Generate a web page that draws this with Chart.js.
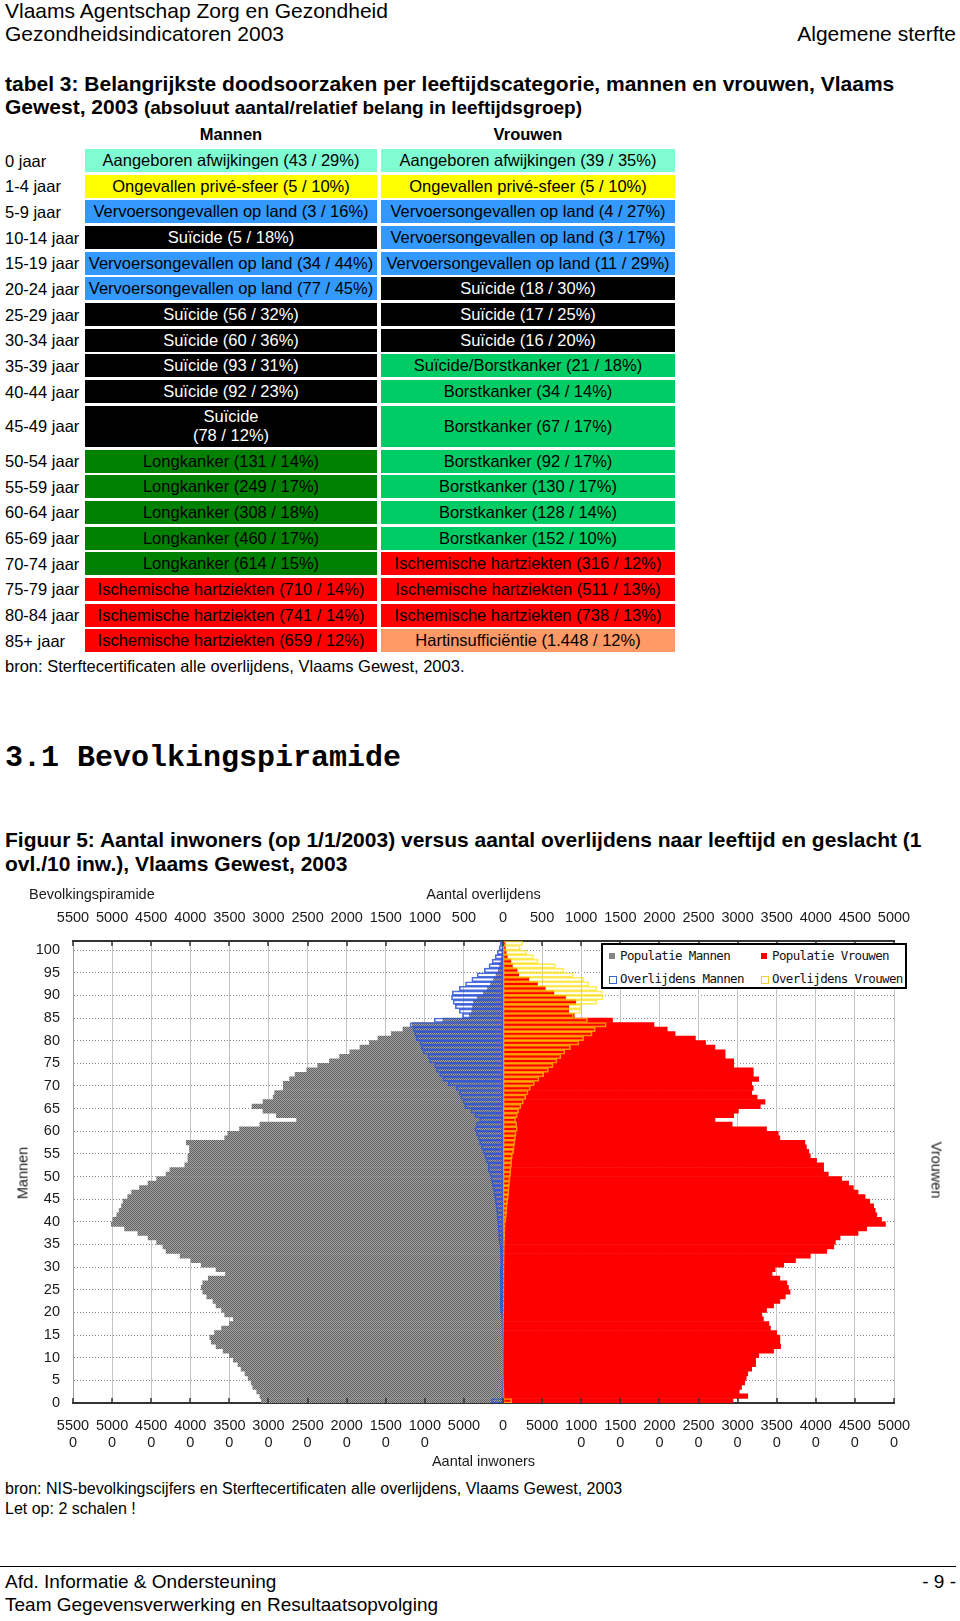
<!DOCTYPE html>
<html lang="nl">
<head>
<meta charset="utf-8">
<title>Algemene sterfte - Bevolkingspiramide</title>
<script src="https://cdn.jsdelivr.net/npm/chart.js@4.4.1/dist/chart.umd.min.js"></script>
<style>
    html, body { margin: 0; padding: 0; background: #fff; }
    body { width: 960px; height: 1621px; position: relative; overflow: hidden;
           font-family: "Liberation Sans", Arial, sans-serif; color: #000; }
    .t { position: absolute; white-space: nowrap; }
    .hdr { font-size: 21px; line-height: 24px; }
    .ttl { font-size: 21px; line-height: 24px; font-weight: bold; }
    .ttl small { font-size: 19px; }
    .colhead { font-size: 16.5px; line-height: 20px; font-weight: bold; text-align: center; }
    .lbl { font-size: 16.5px; line-height: 20px; }
    .cell { position: absolute; display: flex; align-items: center; justify-content: center;
            font-size: 16.5px; line-height: 19px; text-align: center; white-space: pre-line; }
    .sect { font-family: "Liberation Mono", "DejaVu Sans Mono", monospace; font-weight: bold;
            font-size: 30px; line-height: 34px; }
    .note { font-size: 16px; line-height: 20px; }
    .foot { font-size: 19px; line-height: 22px; }
    #chart-wrap { position: absolute; left: 0; top: 880px; width: 960px; height: 595px; }
    .ctext { position: absolute; font-size: 14.5px; line-height: 17px; color: #1a1a1a; white-space: nowrap; }
    #legend { position: absolute; left: 601px; top: 943px; width: 302px; height: 42px;
              border: 2px solid #000; background: #fff; z-index: 2;
              font-family: "DejaVu Sans Mono", "Liberation Mono", monospace; font-size: 12.5px;
              letter-spacing: -0.65px; color: #111; }
    #legend .item { position: absolute; line-height: 15px; white-space: nowrap; }
    #legend .sw { position: absolute; width: 6px; height: 6px; }
    #footer-rule { position: absolute; left: 0; top: 1566px; width: 956px; height: 1px; background: #000; }
</style>
</head>
<body>

<div class="t hdr" style="left:5px; top:-1px;">Vlaams Agentschap Zorg en Gezondheid</div>
<div class="t hdr" style="left:5px; top:22px;">Gezondheidsindicatoren 2003</div>
<div class="t hdr" style="right:4px; top:22px;">Algemene sterfte</div>

<div class="t ttl" style="left:5px; top:72px;">tabel 3: Belangrijkste doodsoorzaken per leeftijdscategorie, mannen en vrouwen, Vlaams</div>
<div class="t ttl" style="left:5px; top:95px;">Gewest, 2003 <small>(absoluut aantal/relatief belang in leeftijdsgroep)</small></div>

<div class="t colhead" style="left:85px; width:292px; top:124px;">Mannen</div>
<div class="t colhead" style="left:381px; width:294px; top:124px;">Vrouwen</div>

<div id="cause-table"></div>

<div class="t note" style="left:5px; top:656px; font-size:16.5px;">bron: Sterftecertificaten alle overlijdens, Vlaams Gewest, 2003.</div>

<div class="t sect" style="left:5px; top:741px;">3.1 Bevolkingspiramide</div>

<div class="t ttl" style="left:5px; top:828px;">Figuur 5: Aantal inwoners (op 1/1/2003) versus aantal overlijdens naar leeftijd en geslacht (1</div>
<div class="t ttl" style="left:5px; top:852px;">ovl./10 inw.), Vlaams Gewest, 2003</div>

<div id="chart-wrap"><canvas id="pyramid-chart"></canvas></div>
<div class="ctext" style="left:29px; top:886px;">Bevolkingspiramide</div>
<div class="ctext" style="left:23px; top:1173px; transform: translate(-50%, -50%) rotate(-90deg);">Mannen</div>
<div class="ctext" style="left:936px; top:1170px; transform: translate(-50%, -50%) rotate(90deg);">Vrouwen</div>
<div id="legend"></div>

<div class="t note" style="left:5px; top:1479px;">bron: NIS-bevolkingscijfers en Sterftecertificaten alle overlijdens, Vlaams Gewest, 2003</div>
<div class="t note" style="left:5px; top:1499px;">Let op: 2 schalen !</div>

<div id="footer-rule"></div>
<div class="t foot" style="left:5px; top:1571px;">Afd. Informatie &amp; Ondersteuning</div>
<div class="t foot" style="left:5px; top:1594px;">Team Gegevensverwerking en Resultaatsopvolging</div>
<div class="t foot" style="right:4px; top:1571px;">- 9 -</div>

<script>
// age categories (one bar per year, top bar = 101)
const ages = [
    0, 1, 2, 3, 4, 5, 6, 7, 8, 9,
    10, 11, 12, 13, 14, 15, 16, 17, 18, 19,
    20, 21, 22, 23, 24, 25, 26, 27, 28, 29,
    30, 31, 32, 33, 34, 35, 36, 37, 38, 39,
    40, 41, 42, 43, 44, 45, 46, 47, 48, 49,
    50, 51, 52, 53, 54, 55, 56, 57, 58, 59,
    60, 61, 62, 63, 64, 65, 66, 67, 68, 69,
    70, 71, 72, 73, 74, 75, 76, 77, 78, 79,
    80, 81, 82, 83, 84, 85, 86, 87, 88, 89,
    90, 91, 92, 93, 94, 95, 96, 97, 98, 99,
    100, 101
];

// population on 1/1/2003 (inhabitants)
const populationMen = [
    30900, 31100, 31500, 32000, 32200, 32600, 33000, 33500, 33900, 34500,
    35000, 35800, 36700, 37300, 37500, 36900, 36000, 35000, 34500, 35600,
    36000, 36700, 37100, 37900, 38400, 38600, 38400, 37700, 35500, 36700,
    38600, 39900, 41300, 43100, 43500, 44300, 45400, 46700, 48400, 50100,
    49900, 49400, 49100, 48800, 48600, 48000, 47500, 46500, 45400, 44300,
    43100, 42600, 40700, 40300, 40300, 40100, 40100, 40500, 35600, 35200,
    33700, 31100, 26400, 29000, 30700, 32100, 30700, 29400, 29200, 28100,
    28100, 27300, 26600, 25100, 23700, 22200, 20900, 19600, 18300, 17100,
    16000, 14300, 12800, 11600, 7700, 4300, 4000, 3900, 3800, 3300,
    2500, 2000, 1600, 1200, 900, 600, 450, 300, 200, 150,
    100, 80
];
const populationWomen = [
    29400, 31300, 30200, 30500, 30900, 31100, 31300, 31800, 32300, 32300,
    32700, 34600, 35500, 35400, 35400, 35000, 34200, 34000, 33300, 33100,
    33700, 34600, 35400, 36100, 36700, 36500, 36300, 35400, 34400, 34800,
    35900, 37400, 39300, 41400, 42300, 42500, 43100, 45400, 46500, 48900,
    48400, 47800, 47600, 47400, 46900, 46300, 45400, 44800, 44200, 43300,
    41600, 41000, 41000, 40100, 39300, 39100, 38800, 38600, 35400, 35200,
    33700, 29300, 27100, 29500, 30100, 32900, 33500, 32500, 31800, 32000,
    31800, 32700, 32000, 32000, 29500, 29500, 28400, 28400, 27100, 25900,
    24600, 22000, 21000, 19300, 14000, 9100, 8400, 8400, 9300, 8000,
    6500, 5400, 4400, 3300, 2000, 1800, 1200, 1000, 550, 400,
    300, 250
];

// deaths in 2003 (top scale, 1 death = 10 inhabitants)
const deathsMen = [
    148, 16, 12, 11, 10, 5, 4, 3, 4, 4,
    4, 5, 5, 6, 8, 9, 12, 15, 18, 23,
    33, 35, 34, 35, 34, 34, 35, 34, 35, 37,
    31, 32, 33, 34, 37, 50, 56, 58, 62, 67,
    72, 78, 84, 92, 100, 110, 118, 130, 142, 155,
    168, 190, 190, 213, 234, 256, 277, 300, 320, 340,
    360, 340, 300, 360, 410, 490, 510, 540, 560, 600,
    700, 770, 810, 850, 875, 940, 960, 1020, 1045, 1065,
    1110, 1130, 1150, 1190, 880, 520, 560, 610, 640, 660,
    650, 560, 480, 400, 330, 240, 180, 140, 100, 75,
    50, 35
];
const deathsWomen = [
    111, 15, 13, 11, 10, 4, 3, 3, 3, 3,
    3, 3, 4, 4, 4, 6, 7, 7, 9, 9,
    11, 12, 12, 12, 13, 13, 13, 14, 14, 14,
    14, 15, 16, 17, 18, 19, 21, 23, 26, 28,
    38, 44, 49, 53, 59, 68, 74, 79, 83, 90,
    96, 102, 108, 113, 120, 135, 143, 152, 160, 168,
    183, 175, 160, 183, 200, 230, 260, 290, 320, 350,
    400, 460, 520, 580, 640, 690, 740, 790, 864, 970,
    1030, 1140, 1180, 1320, 1080, 900, 990, 1000, 1200, 1280,
    1270, 1200, 1100, 1030, 900, 780, 670, 450, 390, 300,
    220, 250
];

const seriesLabels = ['Populatie Mannen', 'Populatie Vrouwen', 'Overlijdens Mannen', 'Overlijdens Vrouwen'];

// table 3
const tableAgeGroups = ['0 jaar', '1-4 jaar', '5-9 jaar', '10-14 jaar', '15-19 jaar', '20-24 jaar', '25-29 jaar',
    '30-34 jaar', '35-39 jaar', '40-44 jaar', '45-49 jaar', '50-54 jaar', '55-59 jaar', '60-64 jaar',
    '65-69 jaar', '70-74 jaar', '75-79 jaar', '80-84 jaar', '85+ jaar'];
const tableMen = [
    'Aangeboren afwijkingen (43 / 29%)', 'Ongevallen privé-sfeer (5 / 10%)', 'Vervoersongevallen op land (3 / 16%)',
    'Suïcide (5 / 18%)', 'Vervoersongevallen op land (34 / 44%)', 'Vervoersongevallen op land (77 / 45%)',
    'Suïcide (56 / 32%)', 'Suïcide (60 / 36%)', 'Suïcide (93 / 31%)', 'Suïcide (92 / 23%)', 'Suïcide\n(78 / 12%)',
    'Longkanker (131 / 14%)', 'Longkanker (249 / 17%)', 'Longkanker (308 / 18%)', 'Longkanker (460 / 17%)',
    'Longkanker (614 / 15%)', 'Ischemische hartziekten (710 / 14%)', 'Ischemische hartziekten (741 / 14%)',
    'Ischemische hartziekten (659 / 12%)'];
const tableWomen = [
    'Aangeboren afwijkingen (39 / 35%)', 'Ongevallen privé-sfeer (5 / 10%)', 'Vervoersongevallen op land (4 / 27%)',
    'Vervoersongevallen op land (3 / 17%)', 'Vervoersongevallen op land (11 / 29%)', 'Suïcide (18 / 30%)',
    'Suïcide (17 / 25%)', 'Suïcide (16 / 20%)', 'Suïcide/Borstkanker (21 / 18%)', 'Borstkanker (34 / 14%)',
    'Borstkanker (67 / 17%)', 'Borstkanker (92 / 17%)', 'Borstkanker (130 / 17%)', 'Borstkanker (128 / 14%)',
    'Borstkanker (152 / 10%)', 'Ischemische hartziekten (316 / 12%)', 'Ischemische hartziekten (511 / 13%)',
    'Ischemische hartziekten (738 / 13%)', 'Hartinsufficiëntie (1.448 / 12%)'];

function causeColours(text) {
    if (text.startsWith('Aangeboren')) return ['#80fcd2', '#000'];
    if (text.startsWith('Ongevallen')) return ['#ffff00', '#000'];
    if (text.startsWith('Vervoers')) return ['#3399ff', '#000'];
    if (text.startsWith('Suïcide/')) return ['#00cc66', '#000'];
    if (text.startsWith('Suïcide')) return ['#000000', '#fff'];
    if (text.startsWith('Borst')) return ['#00cc66', '#000'];
    if (text.startsWith('Long')) return ['#008000', '#000'];
    if (text.startsWith('Ischem')) return ['#ff0000', '#000'];
    return ['#ff9966', '#000'];
}

function buildTable() {
    const holder = document.getElementById('cause-table');
    tableAgeGroups.forEach((group, i) => {
        // row 10 (45-49) is double height
        let top, height;
        if (i < 10) { top = 149 + 25.68 * i; height = 23; }
        else if (i === 10) { top = 405.8; height = 41; }
        else { top = 449.5 + 25.68 * (i - 11); height = 23; }

        const label = document.createElement('div');
        label.className = 't lbl';
        label.style.left = '5px';
        label.style.top = (top + height / 2 - 10) + 'px';
        label.textContent = group;
        holder.appendChild(label);

        [[tableMen[i], 85, 292], [tableWomen[i], 381, 294]].forEach(([text, left, width]) => {
            const [bg, fg] = causeColours(text);
            const cell = document.createElement('div');
            cell.className = 'cell';
            cell.style.left = left + 'px';
            cell.style.top = top + 'px';
            cell.style.width = width + 'px';
            cell.style.height = height + 'px';
            cell.style.background = bg;
            cell.style.color = fg;
            cell.textContent = text;
            holder.appendChild(cell);
        });
    });
}

function greyDither() {
    const c = document.createElement('canvas');
    c.width = 2; c.height = 2;
    const g = c.getContext('2d');
    g.fillStyle = '#a6a6a6';
    g.fillRect(0, 0, 2, 2);
    g.fillStyle = '#5e5e5e';
    g.fillRect(0, 0, 1, 1);
    g.fillRect(1, 1, 1, 1);
    return g.createPattern(c, 'repeat');
}

function buildLegend() {
    const legend = document.getElementById('legend');
    const swatches = [
        { bg: '#858585', border: 'none' },
        { bg: '#ff0000', border: 'none' },
        { bg: '#fff', border: '1px solid #3f63c8' },
        { bg: '#fff', border: '1px solid #e8d43a' }
    ];
    const spots = [[6, 3], [158, 3], [6, 26], [158, 26]];
    seriesLabels.forEach((text, i) => {
        const sw = document.createElement('div');
        sw.className = 'sw';
        sw.style.left = spots[i][0] + 'px';
        sw.style.top = (spots[i][1] + 5) + 'px';
        sw.style.background = swatches[i].bg;
        sw.style.border = swatches[i].border;
        legend.appendChild(sw);

        const item = document.createElement('div');
        item.className = 'item';
        item.style.left = (spots[i][0] + 11) + 'px';
        item.style.top = spots[i][1] + 'px';
        item.textContent = text;
        legend.appendChild(item);
    });
}

// short tick marks pointing into the plot from the top and bottom borders
const borderTicks = {
    id: 'borderTicks',
    afterDatasetsDraw(chart) {
        const { ctx, chartArea, scales } = chart;
        ctx.save();
        ctx.strokeStyle = '#333';
        ctx.lineWidth = 1.5;
        ctx.beginPath();
        scales.x2.ticks.forEach(t => {
            const px = Math.round(scales.x2.getPixelForValue(t.value));
            ctx.moveTo(px, chartArea.top);
            ctx.lineTo(px, chartArea.top + 5);
        });
        scales.x.ticks.forEach(t => {
            const px = Math.round(scales.x.getPixelForValue(t.value));
            ctx.moveTo(px, chartArea.bottom);
            ctx.lineTo(px, chartArea.bottom - 5);
        });
        ctx.stroke();
        ctx.restore();
    }
};

function generatePyramid() {
    const ctx = document.getElementById('pyramid-chart').getContext('2d');
    const greyPattern = greyDither();
    const points = (values, sign) => values.map((v, i) => ({ x: sign * v, y: ages[i] + 0.5 }));

    Chart.defaults.font.family = '"Liberation Sans", Arial, sans-serif';
    Chart.defaults.font.size = 14.5;
    Chart.defaults.color = '#1a1a1a';

    new Chart(ctx, {
        type: 'bar',
        data: {
            datasets: [
                {
                    label: seriesLabels[2],
                    data: points(deathsMen, -1),
                    xAxisID: 'x2',
                    backgroundColor: 'rgba(0,0,0,0)',
                    borderColor: 'rgba(45, 85, 215, 0.85)',
                    borderWidth: 1,
                    borderSkipped: false
                },
                {
                    label: seriesLabels[3],
                    data: points(deathsWomen, 1),
                    xAxisID: 'x2',
                    backgroundColor: 'rgba(0,0,0,0)',
                    borderColor: 'rgba(255, 222, 0, 0.65)',
                    borderWidth: 1,
                    borderSkipped: false
                },
                {
                    label: seriesLabels[0],
                    data: points(populationMen, -1),
                    xAxisID: 'x',
                    backgroundColor: greyPattern,
                    borderWidth: 0
                },
                {
                    label: seriesLabels[1],
                    data: points(populationWomen, 1),
                    xAxisID: 'x',
                    backgroundColor: '#ff0000',
                    borderWidth: 0
                }
            ]
        },
        options: {
            indexAxis: 'y',
            responsive: true,
            maintainAspectRatio: false,
            animation: false,
            layout: { padding: { left: 0, right: 66, top: 0, bottom: 0 } },
            datasets: { bar: { grouped: false, categoryPercentage: 1, barPercentage: 1 } },
            plugins: {
                legend: { display: false },
                tooltip: { enabled: false }
            },
            scales: {
                y: {
                    type: 'linear',
                    position: 'left',
                    offset: false,
                    min: 0,
                    max: 102,
                    ticks: { stepSize: 5, includeBounds: false, padding: 13 },
                    grid: { color: '#8c8c8c', drawTicks: false, offset: false },
                    border: { color: '#a0a0a0', dash: [1, 2] },
                    afterFit: scale => { scale.width = 73; }
                },
                x: {
                    type: 'linear',
                    position: 'bottom',
                    min: -55000,
                    max: 50000,
                    ticks: {
                        stepSize: 5000,
                        autoSkip: false,
                        maxRotation: 0,
                        minRotation: 0,
                        padding: 14.3,
                        callback: value => {
                            const s = String(Math.abs(value));
                            return s.length > 4 ? [s.slice(0, 4), s.slice(4)] : s;
                        }
                    },
                    grid: { color: '#c4c4c4', drawTicks: false },
                    border: { color: '#333', width: 2 },
                    title: { display: true, text: 'Aantal inwoners', padding: { top: 0, bottom: 4.3 } },
                    afterFit: scale => { scale.height = 72; }
                },
                x2: {
                    type: 'linear',
                    position: 'top',
                    min: -5500,
                    max: 5000,
                    ticks: {
                        stepSize: 500,
                        autoSkip: false,
                        maxRotation: 0,
                        minRotation: 0,
                        padding: 14.3,
                        callback: value => String(Math.abs(value))
                    },
                    grid: { display: false, drawTicks: false },
                    border: { color: '#333', width: 2 },
                    title: { display: true, text: 'Aantal overlijdens', padding: { top: 6.3, bottom: 0 } },
                    afterFit: scale => { scale.height = 61; }
                }
            }
        },
        plugins: [borderTicks]
    });

    buildLegend();
}

buildTable();
generatePyramid();
</script>
</body>
</html>
